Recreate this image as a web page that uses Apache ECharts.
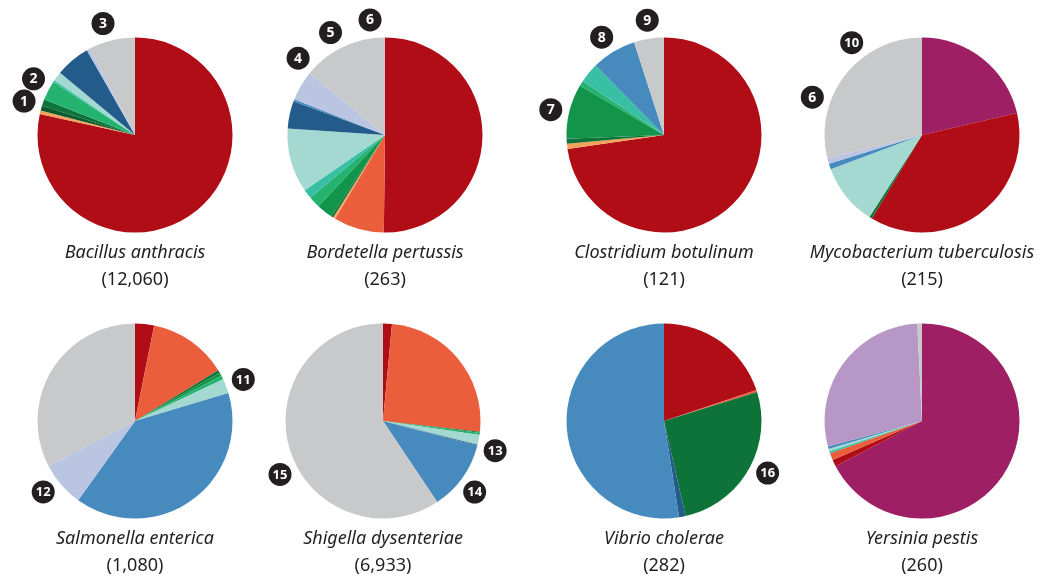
<!DOCTYPE html>
<html>
<head>
<meta charset="utf-8">
<script src="https://cdn.jsdelivr.net/npm/echarts@6/dist/echarts.min.js"></script>
<style>
  html, body { margin: 0; padding: 0; background: #ffffff; }
  #chart { width: 1040px; height: 582px; }
</style>
</head>
<body>
<div id="chart"></div>
<script>
// Category keys, in the clockwise order every pie uses
const categories = ['A', 'B', 'C', 'D', 'E', 'F', 'G', 'H', 'I', 'J', 'K', 'L', 'M', 'N', 'O'];

// Species shown, one pie each
const species = [
  'Bacillus anthracis', 'Bordetella pertussis', 'Clostridium botulinum', 'Mycobacterium tuberculosis',
  'Salmonella enterica', 'Shigella dysenteriae', 'Vibrio cholerae', 'Yersinia pestis'
];

// Counts per category (same order as categories)
const bacillusAnthracis        = [0, 9463, 0, 68, 100, 128, 0, 392, 40, 185, 693, 0, 70, 0, 921];
const bordetellaPertussis      = [0, 132, 22, 1, 0, 1, 7, 5, 4, 28, 12, 1, 13, 0, 37];
const clostridiumBotulinum     = [0, 88, 0, 1, 0, 1, 11, 1, 4, 0, 0, 9, 0, 0, 6];
const mycobacteriumTuberculosis = [46, 80, 0, 0, 0, 1, 0, 0, 0, 22, 0, 2, 2, 0, 62];
const salmonellaEnterica       = [0, 34, 142, 0, 0, 5, 6, 7, 0, 26, 0, 427, 80, 0, 353];
const shigellaDysenteriae      = [0, 102, 1752, 0, 0, 12, 0, 25, 0, 115, 10, 800, 0, 0, 4117];
const vibrioCholerae           = [0, 56, 1, 0, 0, 74, 0, 0, 0, 0, 3, 148, 0, 0, 0];
const yersiniaPestis           = [175, 3, 3, 0, 0, 0, 0, 0, 1, 1, 0, 1, 0, 74, 2];

// Footnote numbers attached to each pie
const footnotes = [
  ['1', '2', '3'], ['4', '5', '6'], ['7', '8', '9'], ['6', '10'],
  ['11', '12'], ['13', '14', '15'], ['16'], []
];

const speciesValues = [
  bacillusAnthracis, bordetellaPertussis, clostridiumBotulinum, mycobacteriumTuberculosis,
  salmonellaEnterica, shigellaDysenteriae, vibrioCholerae, yersiniaPestis
];

// ---- styling and layout ----
const palette = [
  '#9E1F63', '#B00D17', '#EB5E3C', '#F5A25D', '#0B5B2E', '#0E7339', '#12954A', '#24B36F',
  '#39BFA3', '#A4D9D1', '#235B8A', '#478BBE', '#BAC5E2', '#B697C6', '#C8C9CB'
];
const TEXT = '#231F20';
const FONT = '"Noto Sans", "Open Sans", sans-serif';
const R = 97.5;
const BADGE_DIST = 116;
const centers = [
  [135, 135], [385, 135], [664, 135], [922, 135],
  [135, 421], [383, 421], [664, 421], [922, 421]
];
// angle (degrees clockwise from 12 o'clock) of each footnote badge
const badgeAngles = [
  [287, 299, 344], [311.5, 332, 352.6], [282.6, 327.5, 351.7], [289, 322.7],
  [69, 232.3], [104.8, 127.8, 242.6], [116.7], []
];

const series = speciesValues.map((vals, i) => ({
  type: 'pie',
  center: centers[i],
  radius: R,
  startAngle: 90,
  clockwise: true,
  silent: true,
  animation: false,
  label: { show: false },
  labelLine: { show: false },
  itemStyle: { borderWidth: 0 },
  data: vals
    .map((v, k) => ({ name: categories[k], value: v, itemStyle: { color: palette[k] } }))
    .filter(d => d.value > 0)
}));

const fmt = n => n.toLocaleString('en-US');

const title = species.map((name, i) => ({
  text: name,
  subtext: '(' + fmt(speciesValues[i].reduce((a, b) => a + b, 0)) + ')',
  left: centers[i][0],
  top: centers[i][1] + 107,
  textAlign: 'center',
  padding: 0,
  itemGap: 6,
  textStyle: { fontFamily: FONT, fontStyle: 'italic', fontWeight: 'normal', fontSize: 18, lineHeight: 21, color: TEXT },
  subtextStyle: { fontFamily: FONT, fontSize: 18, lineHeight: 21, color: TEXT }
}));

const graphic = [];
footnotes.forEach((list, i) => {
  list.forEach((t, j) => {
    const a = badgeAngles[i][j] * Math.PI / 180;
    graphic.push({
      type: 'group',
      x: centers[i][0] + BADGE_DIST * Math.sin(a),
      y: centers[i][1] - BADGE_DIST * Math.cos(a),
      silent: true,
      children: [
        { type: 'circle', shape: { cx: 0, cy: 0, r: 11.5 }, style: { fill: TEXT } },
        { type: 'text', style: { text: t, x: 0, y: 0.5, align: 'center', verticalAlign: 'middle',
          fill: '#ffffff', font: 'bold ' + (t.length > 1 ? 13 : 14) + 'px ' + FONT } }
      ]
    });
  });
});

const chart = echarts.init(document.getElementById('chart'));
chart.setOption({
  backgroundColor: '#ffffff',
  animation: false,
  title,
  graphic,
  series
});
</script>
</body>
</html>
